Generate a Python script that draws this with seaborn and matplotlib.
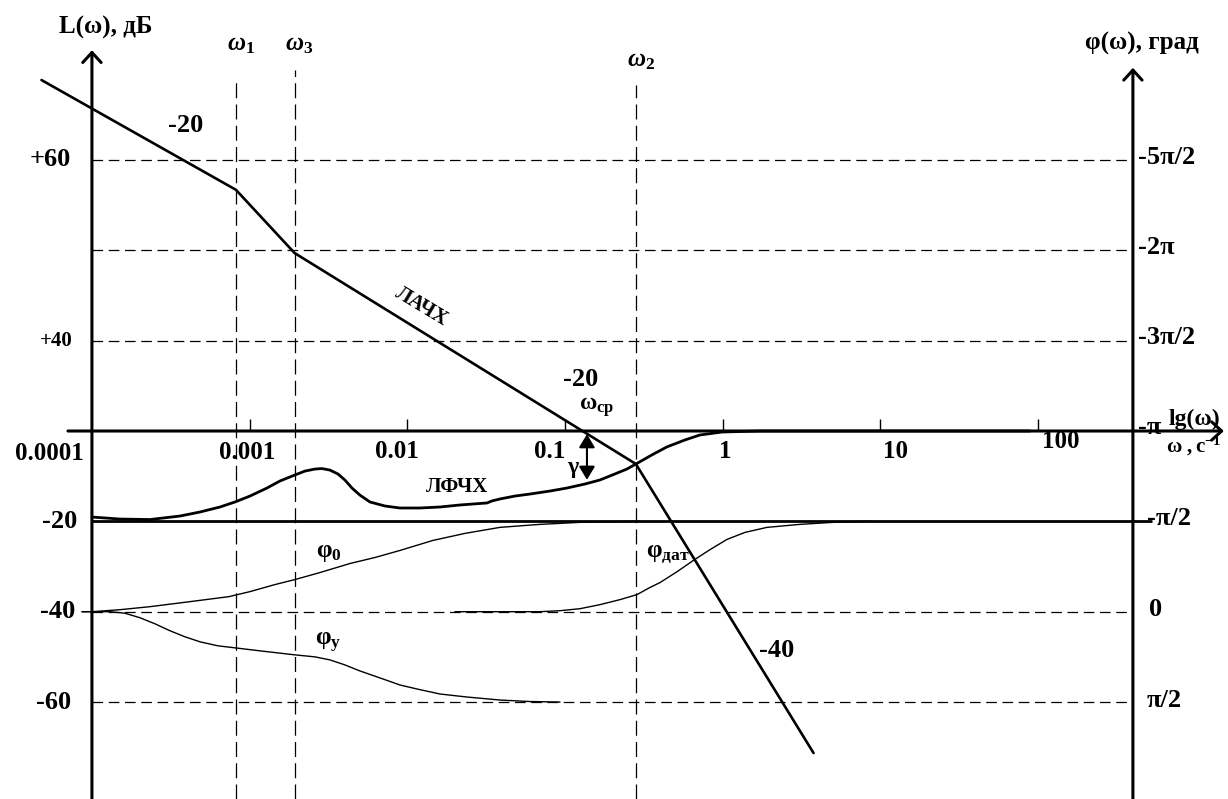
import matplotlib
matplotlib.use("Agg")
import matplotlib.pyplot as plt
import seaborn as sns

# ---- data -----------------------------------------------------------------
# decades on the lg(ω) axis
decade_lg = [-4, -3, -2, -1, 0, 1, 2]
decade_labels = ["0.0001", "0.001", "0.01", "0.1", "1", "10", "100"]

# corner frequencies (lg ω) and crossover frequency
corner_lg = [-3.087, -2.715, -0.551]
corner_names = [r"$\mathit{ω}_{1}$", r"$\mathit{ω}_{3}$", r"$\mathit{ω}_{2}$"]
wcp_lg = -0.887

# asymptotic log-magnitude (ЛАЧХ), dB
lachx_lg = [-4.32, -3.087, -2.715, -0.551, 0.576]
lachx_db = [77.7, 53.4, 39.4, -7.3, -71.3]

# left scale (dB) labels
db_ticks = [60, 20, -20, -40, -60]
db_labels = ["+60", "+40", "-20", "-40", "-60"]

# right scale (phase, degrees) labels
phase_ticks = [-450, -360, -270, -180, -90, 0, 90]
phase_labels = ["-5π/2", "-2π", "-3π/2", "-π", "-π/2", "0", "π/2"]
phase_dashed = [-450, -360, -270, 0, 90]

# log-phase of the open loop (ЛФЧХ), degrees
lfchx_lg = [-4.000, -3.822, -3.632, -3.442, -3.315, -3.188, -3.093, -2.998,
            -2.890, -2.808, -2.713, -2.649, -2.586, -2.542, -2.491, -2.440,
            -2.396, -2.351, -2.301, -2.237, -2.142, -2.047, -1.920, -1.793,
            -1.667, -1.540, -1.495, -1.464, -1.413, -1.318, -1.223, -1.096,
            -0.988, -0.874, -0.779, -0.684, -0.608, -0.551, -0.450, -0.355,
            -0.241, -0.146, -0.005, 0.236, 1.948]
lfchx_deg = [-94.3, -92.3, -91.8, -95.3, -99.3, -104.3, -109.3, -115.2,
             -123.2, -130.2, -136.2, -140.1, -142.1, -142.6, -141.1, -137.2,
             -131.2, -123.2, -116.2, -109.3, -105.3, -103.3, -103.3, -104.3,
             -106.3, -107.8, -108.3, -110.3, -112.3, -115.2, -117.2, -120.2,
             -123.2, -127.2, -131.2, -137.2, -142.1, -147.1, -156.1, -164.1,
             -171.0, -176.0, -179.0, -180.0, -180.0]

# plant phase φ0
phi0_lg = [-4.063, -4.000, -3.822, -3.632, -3.379, -3.131, -2.998, -2.840,
           -2.713, -2.554, -2.364, -2.205, -2.047, -1.838, -1.635, -1.413,
           -1.159, -0.905, -0.525]
phi0_deg = [0, 0, -2, -5, -10, -15, -20, -27, -32, -39, -48, -54, -61, -71,
            -78, -84, -87, -89, -90]

# controller phase φу
phiy_lg = [-4.063, -3.886, -3.791, -3.696, -3.601, -3.505, -3.410, -3.315,
           -3.201, -3.093, -2.935, -2.713, -2.586, -2.491, -2.396, -2.301,
           -2.155, -2.047, -1.939, -1.793, -1.622, -1.413, -1.223, -1.032]
phiy_deg = [0, 0, 1.5, 6, 12, 19, 25, 30, 34, 36, 39, 43, 45, 48, 53, 59,
            67, 73, 77, 82, 85, 88, 89.5, 90]

# sensor phase φдат
phid_lg = [-1.698, -1.159, -1.032, -0.905, -0.779, -0.652, -0.544, -0.463,
           -0.398, -0.288, -0.187, -0.079, 0.027, 0.141, 0.280, 0.490, 0.699,
           0.933]
phid_deg = [0, 0, -1, -3, -7, -12, -17, -24, -29, -40, -51, -62, -72, -79,
            -84, -87, -89, -90]

# ---- style ----------------------------------------------------------------
sns.set_theme(style="white")
plt.rcParams["font.family"] = ["Liberation Serif", "DejaVu Serif"]
plt.rcParams["font.weight"] = "bold"
plt.rcParams["mathtext.fontset"] = "custom"
plt.rcParams["mathtext.rm"] = "Liberation Serif"
plt.rcParams["mathtext.it"] = "Liberation Serif:italic"
plt.rcParams["mathtext.bf"] = "Liberation Serif:bold"

fig = plt.figure(figsize=(12.28, 7.99), dpi=100)
ax = fig.add_axes([0, 0, 1, 1])
ax.set_xlim(-4.583, 3.204)
ax.set_ylim(-81.47, 95.42)
ax2 = ax.twinx()
ax2.set_ylim(186.6, -609.4)

X_LEFT, X_RIGHT = -4.0, 2.601
BLACK = "black"
hdash = (0, (8.5, 4.5))
vdash = (0, (12, 5))

# ---- grid ---------------------------------------------------------------
ax2.hlines(phase_dashed, X_LEFT, X_RIGHT, colors=BLACK, lw=0.9, linestyles=[hdash])
ax2.hlines([-90], X_LEFT, 2.722, colors=BLACK, lw=2.0)
for lg, top in zip(corner_lg, [78.1, 79.9, 76.6]):
    ax.vlines(lg, -81.47, top, colors=BLACK, lw=0.9, linestyles=[vdash])

# ---- axes with arrows ---------------------------------------------------
arrow_kw = dict(arrowstyle="->,head_length=0.36,head_width=0.33", lw=2.2,
                color=BLACK, mutation_scale=20, shrinkA=0, shrinkB=0)
ax.annotate("", xy=(X_LEFT, 84.3), xytext=(X_LEFT, -81.47), arrowprops=arrow_kw)
ax.annotate("", xy=(X_RIGHT, 80.4), xytext=(X_RIGHT, -81.47), arrowprops=arrow_kw)
ax.annotate("", xy=(3.178, 0), xytext=(-4.152, 0), arrowprops=arrow_kw)
ax.vlines(decade_lg[1:], 0, 2.6, colors=BLACK, lw=1.0)

# ---- curves -------------------------------------------------------------
sns.lineplot(x=lachx_lg, y=lachx_db, ax=ax, color=BLACK, lw=1.9, estimator=None)
sns.lineplot(x=lfchx_lg, y=lfchx_deg, ax=ax2, color=BLACK, lw=2.0, estimator=None)
sns.lineplot(x=phi0_lg, y=phi0_deg, ax=ax2, color=BLACK, lw=1.0, estimator=None)
sns.lineplot(x=phiy_lg, y=phiy_deg, ax=ax2, color=BLACK, lw=1.0, estimator=None)
sns.lineplot(x=phid_lg, y=phid_deg, ax=ax2, color=BLACK, lw=1.0, estimator=None)
ax.set_xlim(-4.583, 3.204)
ax.set_ylim(-81.47, 95.42)
ax2.set_ylim(186.6, -609.4)
for a in (ax, ax2):
    a.set_axis_off()

# phase margin γ
ax.annotate("", xy=(-0.861, -10.8), xytext=(-0.861, -0.7),
            arrowprops=dict(arrowstyle="<|-|>,head_length=0.5,head_width=0.3",
                            lw=1.5, color=BLACK, mutation_scale=16,
                            shrinkA=0, shrinkB=0))

# ---- labels -------------------------------------------------------------
T = dict(color=BLACK, fontweight="bold")
tick_x = [-4.273, -3.017, -2.066, -1.095, 0.014, 1.098, 2.145]
tick_y = [-4.9, -4.7, -4.5, -4.5, -4.5, -4.5, -2.3]
for x, y, s in zip(tick_x, tick_y, decade_labels):
    ax.text(x, y, s, ha="center", va="center", fontsize=18, **T)

db_x = [-4.133, -4.120, -4.095, -4.108, -4.133]
db_size = [19, 15, 19, 19, 19]
for x, y, s, fs in zip(db_x, db_ticks, db_labels, db_size):
    ax.text(x, y, s, ha="right", va="center", fontsize=fs, **T)

ph_x = [2.633, 2.633, 2.633, 2.633, 2.690, 2.703, 2.690]
ph_dy = [2, 3, 3, 4, 3, 2, 2]
for x, p, s, dy in zip(ph_x, phase_ticks, phase_labels, ph_dy):
    ax2.text(x, p - dy, s, ha="left", va="center", fontsize=19, **T)

for lg, name, y in zip(corner_lg, corner_names, [85.5, 85.5, 82.1]):
    ax.text(lg + 0.03, y, name, ha="center", va="center", fontsize=18, color=BLACK)

ax.text(-3.911, 89.4, "L(ω), дБ", ha="center", va="center", fontsize=18, **T)
ax.text(2.658, 85.9, "φ(ω), град", ha="center", va="center", fontsize=18, **T)
ax.text(2.988, 2.6, "lg(ω)", ha="center", va="center", fontsize=17, **T)
ax.text(2.988, -3.3, r"$\mathbf{ω\ ,c}^{\mathbf{-1}}$", ha="center", va="center",
        fontsize=15, color=BLACK)

ax.text(-3.404, 67.7, "-20", ha="center", va="center", fontsize=19, **T)
ax.text(-0.899, 11.3, "-20", ha="center", va="center", fontsize=19, **T)
ax.text(0.344, -48.5, "-40", ha="center", va="center", fontsize=19, **T)
ax.text(-1.914, 27.5, "ЛАЧХ", ha="center", va="center", fontsize=15,
        rotation=-31, **T)
ax.text(-1.685, -12.4, "ЛФЧХ", ha="center", va="center", fontsize=15, **T)
ax.text(wcp_lg + 0.09, 5.3, r"$\mathbf{ω}_{\mathbf{ср}}$", ha="center",
        va="center", fontsize=17, color=BLACK)
ax.text(-0.950, -8.0, "γ", ha="center", va="center", fontsize=17, **T)
ax.text(-2.50, -26.8, r"$\mathbf{φ}_{\mathbf{0}}$", ha="center", va="center",
        fontsize=18, color=BLACK)
ax.text(-2.50, -47.0, r"$\mathbf{φ}_{\mathbf{у}}$", ha="center", va="center",
        fontsize=18, color=BLACK)
ax.text(-0.35, -27.3, r"$\mathbf{φ}_{\mathbf{дат}}$", ha="center", va="center",
        fontsize=18, color=BLACK)

fig.savefig("out.png", dpi=100)
